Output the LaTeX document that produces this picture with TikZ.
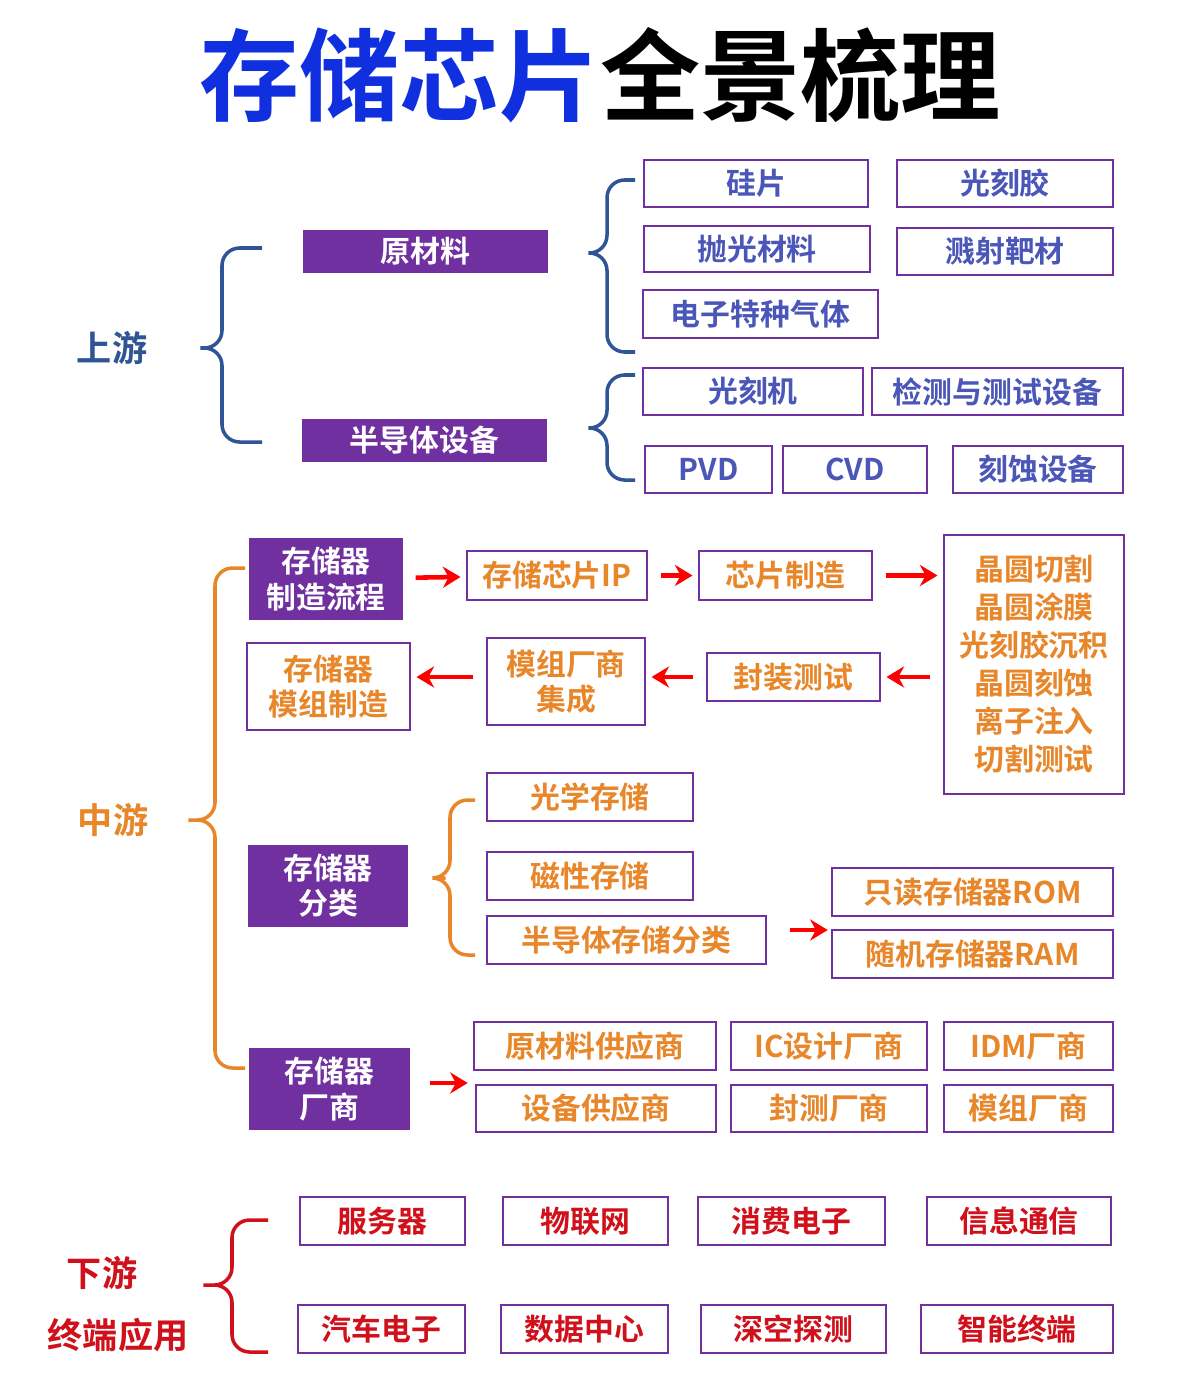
\documentclass[tikz,border=0pt]{standalone}
\usepackage{fontspec}
\setmainfont{Noto Sans CJK SC}[BoldFont={* Bold}]
\usetikzlibrary{arrows.meta,positioning}
\definecolor{ttlblue}{HTML}{1030E0}
\definecolor{upblue}{HTML}{2F5597}
\definecolor{boxtxt}{HTML}{4A56B8}
\definecolor{midor}{HTML}{E8862A}
\definecolor{downred}{HTML}{D0101B}
\definecolor{purp}{HTML}{7030A0}
\tikzset{
  cat/.style={fill=purp, text=white, font=\bfseries\fontsize{17}{20}\selectfont, align=center, inner sep=0pt},
  item/.style={draw=purp, line width=1.4pt, fill=white, font=\bfseries\fontsize{17}{20}\selectfont, align=center, inner sep=0pt},
  up/.style={item, text=boxtxt},
  mid/.style={item, text=midor},
  down/.style={item, text=downred},
  brace/.style={line width=2pt, rounded corners=10pt},
  go/.style={-{Stealth[length=10pt,width=12pt]}, line width=2.6pt, red, shorten <=7pt, shorten >=3pt}
}
% brace: right x, spine x, tip x, top y, tip y, bottom y
\newcommand{\brc}[7]{\draw[brace,#7] (#1,#4) -- (#2,#4) -- (#2,#5) -- (#3,#5) -- (#2,#5) -- (#2,#6) -- (#1,#6);}
\newcommand{\bx}[7]{\node[#6, minimum width={(#4-#2)*0.02cm}, minimum height={(#5-#3)*0.02cm}] (#1) at ({(#2+#4)/2},{(#3+#5)/2}) {#7};}
\begin{document}
\begin{tikzpicture}[x=0.02cm, y=-0.02cm]
  \useasboundingbox[fill=white] (0,0) rectangle (1200,1376);
  % title
  \node[font=\bfseries\fontsize{57}{60}\selectfont] (title) at (600,75) {\textcolor{ttlblue}{存储芯片}全景梳理};

  % upstream
  \node[text=upblue, font=\bfseries\fontsize{20}{22}\selectfont] (upl) at (112,348) {上游};
  \brc{262}{222}{190}{248}{348}{442}{upblue}
  \bx{raw}{303}{230}{548}{273}{cat}{原材料}
  \bx{equip}{302}{419}{547}{462}{cat}{半导体设备}
  \brc{635}{607}{578}{180}{253}{352}{upblue}
  \bx{si}{644}{160}{868}{207}{up}{硅片}
  \bx{resist}{897}{160}{1113}{207}{up}{光刻胶}
  \bx{polish}{644}{226}{870}{272}{up}{抛光材料}
  \bx{target}{897}{228}{1113}{275}{up}{溅射靶材}
  \bx{gas}{643}{290}{878}{338}{up}{电子特种气体}
  \brc{635}{607}{578}{375}{428}{480}{upblue}
  \bx{litho}{643}{368}{863}{415}{up}{光刻机}
  \bx{test}{872}{368}{1123}{415}{up}{检测与测试设备}
  \bx{pvd}{645}{446}{772}{493}{up}{PVD}
  \bx{cvd}{783}{446}{927}{493}{up}{CVD}
  \bx{etch}{953}{446}{1123}{493}{up}{刻蚀设备}

  % midstream
  \node[text=midor, font=\bfseries\fontsize{20}{22}\selectfont] (midl) at (113,820) {中游};
  \brc{245}{215}{178}{568}{820}{1068}{midor}
  \bx{flow}{249}{538}{403}{620}{cat}{存储器\\制造流程}
  \bx{ip}{467}{551}{647}{600}{mid}{存储芯片IP}
  \bx{fab}{699}{551}{872}{600}{mid}{芯片制造}
  \bx{wafer}{944}{535}{1124}{794}{mid, font=\bfseries\fontsize{17}{21.6}\selectfont}{晶圆切割\\晶圆涂膜\\光刻胶沉积\\晶圆刻蚀\\离子注入\\切割测试}
  \bx{pack}{707}{653}{880}{701}{mid}{封装测试}
  \bx{integ}{487}{638}{645}{725}{mid}{模组厂商\\集成}
  \bx{module}{247}{643}{410}{730}{mid}{存储器\\模组制造}
  \draw[go] (flow) -- (ip);
  \draw[go] (ip) -- (fab);
  \draw[go] (fab) -- (wafer.west |- fab);
  \draw[go] (wafer.west |- pack) -- (pack);
  \draw[go] (pack) -- (integ.east |- pack);
  \draw[go] (integ.west |- pack) -- (module.east |- pack);

  \bx{kind}{248}{845}{408}{927}{cat}{存储器\\分类}
  \brc{475}{450}{428}{800}{878}{955}{midor}
  \bx{optic}{487}{773}{693}{821}{mid}{光学存储}
  \bx{magnet}{487}{852}{693}{900}{mid}{磁性存储}
  \bx{semi}{487}{916}{766}{964}{mid}{半导体存储分类}
  \bx{rom}{832}{868}{1113}{916}{mid}{只读存储器ROM}
  \bx{ram}{832}{930}{1113}{978}{mid}{随机存储器RAM}
  \coordinate (semiout) at (778,930);
  \coordinate (romram) at (833,930);
  \draw[go] (semiout) -- (romram);

  \bx{maker}{249}{1048}{410}{1130}{cat}{存储器\\厂商}
  \bx{rawsup}{474}{1022}{716}{1070}{mid}{原材料供应商}
  \bx{icd}{731}{1022}{927}{1070}{mid}{IC设计厂商}
  \bx{idm}{944}{1022}{1113}{1070}{mid}{IDM厂商}
  \bx{eqsup}{476}{1085}{716}{1132}{mid}{设备供应商}
  \bx{osat}{731}{1085}{927}{1132}{mid}{封测厂商}
  \bx{modm}{944}{1085}{1113}{1132}{mid}{模组厂商}
  \coordinate (mkout) at (418,1083);
  \coordinate (mkin) at (473,1083);
  \draw[go] (mkout) -- (mkin);

  % downstream
  \node[text=downred, font=\bfseries\fontsize{20}{22}\selectfont] (downl) at (102,1273) {下游};
  \node[text=downred, font=\bfseries\fontsize{20}{22}\selectfont] (appl) at (118,1335) {终端应用};
  \brc{268}{232}{193}{1220}{1285}{1352}{downred}
  \bx{server}{300}{1197}{465}{1245}{down}{服务器}
  \bx{iot}{503}{1197}{668}{1245}{down}{物联网}
  \bx{consumer}{698}{1197}{885}{1245}{down}{消费电子}
  \bx{comm}{927}{1197}{1111}{1245}{down}{信息通信}
  \bx{auto}{298}{1305}{465}{1353}{down}{汽车电子}
  \bx{dc}{501}{1305}{668}{1353}{down}{数据中心}
  \bx{space}{701}{1305}{886}{1353}{down}{深空探测}
  \bx{smart}{921}{1305}{1113}{1353}{down}{智能终端}
\end{tikzpicture}
\end{document}
